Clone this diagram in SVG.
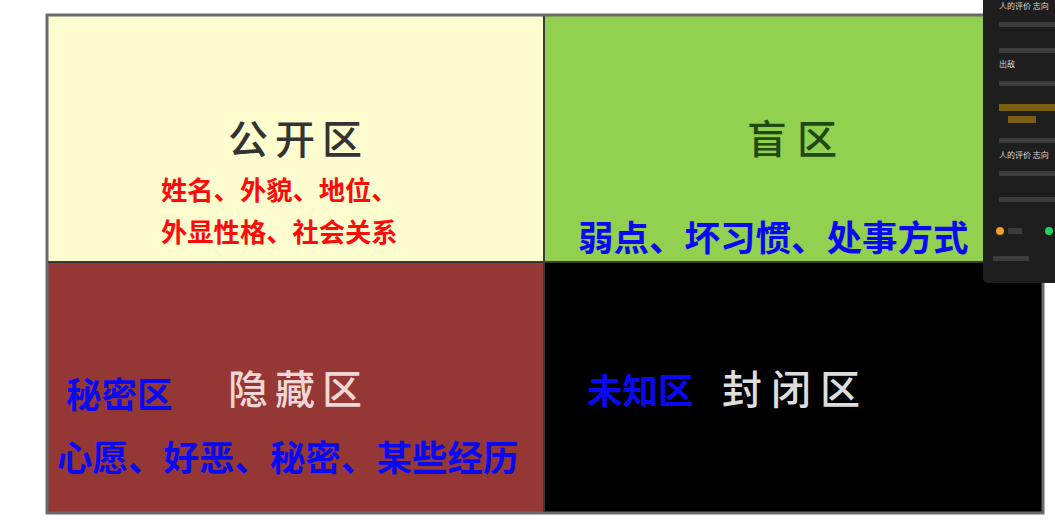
<svg xmlns="http://www.w3.org/2000/svg" width="1055" height="524" viewBox="0 0 1055 524">
  <style>
    .cjk { font-family: "Noto Sans CJK SC", "Noto Sans", sans-serif; }
    .title { font-size: 40px; font-weight: 500; }
    .blue { fill: #0a0af0; font-weight: 700; font-size: 35.5px; }
    .red { fill: #ff0a0a; font-weight: 700; font-size: 26.3px; }
    .ov { font-family: "Noto Sans CJK SC", "Noto Sans", sans-serif; font-size: 8px; fill: #d8d8d8; }
    .bar { fill: #3c3c3c; }
  </style>
  <rect width="1055" height="524" fill="#ffffff"/>

  <g id="open-area">
    <rect x="48" y="16" width="496" height="246" fill="#fdfdcf"/>
    <text class="cjk title" x="228" y="154" fill="#333333" letter-spacing="7">公开区</text>
    <text class="cjk red" x="161" y="200">姓名、外貌、地位、</text>
    <text class="cjk red" x="161" y="242">外显性格、社会关系</text>
  </g>

  <g id="blind-area">
    <rect x="544" y="16" width="498" height="246" fill="#92d050"/>
    <text class="cjk title" x="747" y="154" fill="#1f4a12" font-weight="700" letter-spacing="10">盲区</text>
    <text class="cjk blue" x="578" y="251">弱点、坏习惯、处事方式</text>
  </g>

  <g id="hidden-area">
    <rect x="48" y="262" width="496" height="250" fill="#953735"/>
    <text class="cjk blue" x="66" y="408">秘密区</text>
    <text class="cjk title" x="228" y="404" fill="#f2d6d4" letter-spacing="7">隐藏区</text>
    <text class="cjk blue" x="57" y="471">心愿、好恶、秘密、某些经历</text>
  </g>

  <g id="unknown-area">
    <rect x="544" y="262" width="498" height="250" fill="#000000"/>
    <text class="cjk blue" x="587" y="404" font-weight="500">未知区</text>
    <text class="cjk title" x="722" y="404" fill="#dddddd" letter-spacing="9">封闭区</text>
  </g>

  <g id="connectors">
    <rect x="47" y="15" width="996" height="498" fill="none" stroke="#6a6a6a" stroke-width="3"/>
    <line x1="544" y1="16" x2="544" y2="512" stroke="#3a3a3a" stroke-width="2"/>
    <line x1="48" y1="262" x2="1042" y2="262" stroke="#3a3a3a" stroke-width="2"/>
  </g>

  <g id="overlay-panel">
    <path d="M983 0 H1055 V283 H989 Q983 283 983 277 Z" fill="#1e1e1e"/>
    <text class="ov" x="999" y="9">人的评价 志向</text>
    <rect class="bar" x="999" y="22" width="56" height="5"/>
    <rect class="bar" x="999" y="48" width="56" height="5"/>
    <text class="ov" x="999" y="67">出敌</text>
    <rect class="bar" x="999" y="81" width="56" height="5"/>
    <rect x="999" y="104" width="56" height="7" fill="#7a5e12"/>
    <rect x="1008" y="116" width="28" height="7" fill="#7a5e12"/>
    <rect class="bar" x="999" y="138" width="56" height="5"/>
    <text class="ov" x="999" y="158">人的评价 志向</text>
    <rect class="bar" x="999" y="171" width="56" height="5"/>
    <rect class="bar" x="999" y="197" width="56" height="5"/>
    <circle cx="1000" cy="231" r="4" fill="#f0a020"/>
    <rect class="bar" x="1008" y="228" width="14" height="6"/>
    <circle cx="1049" cy="231" r="4" fill="#20d060"/>
    <rect class="bar" x="993" y="256" width="36" height="5"/>
  </g>
</svg>
